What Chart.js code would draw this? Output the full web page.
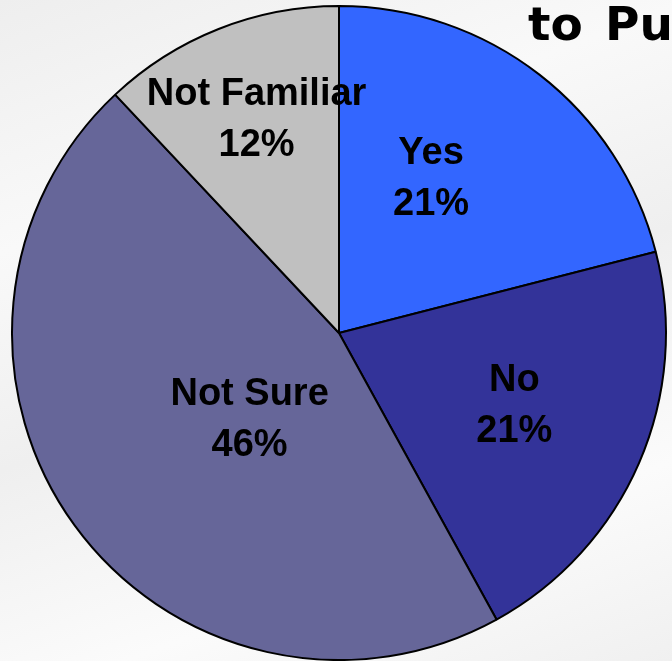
<!DOCTYPE html>
<html>
<head>
<meta charset="utf-8">
<script src="https://cdn.jsdelivr.net/npm/chart.js@4"></script>
<style>
  html, body { margin: 0; padding: 0; }
  body {
    width: 672px;
    height: 661px;
    overflow: hidden;
    background: linear-gradient(160deg, #eeeeee 0%, #f9f9f9 28%, #efefef 52%, #fbfbfb 78%, #f0f0f0 100%);
  }
  canvas { display: block; }
</style>
</head>
<body>
<canvas id="pieChart" width="672" height="661"></canvas>
<script>
// Respostas da pesquisa
const categorias = ['Yes', 'No', 'Not Sure', 'Not Familiar'];
const percentuais = [21, 21, 46, 12];
const cores = ['#3366ff', '#333399', '#666699', '#c0c0c0'];

// Ajuste fino de onde cada rótulo fica dentro da fatia
const deslocAngulo = [-7, -1, -8, 0.5];   // graus em relação ao meio da fatia
const fracRaio = [0.55, 0.58, 0.38, 0.70];

const ctx = document.getElementById('pieChart').getContext('2d');

// Escreve nome + percentual dentro de cada fatia
const rotulosFatias = {
    id: 'rotulosFatias',
    afterDatasetsDraw(chart) {
        const c = chart.ctx;
        const meta = chart.getDatasetMeta(0);
        c.save();
        c.fillStyle = '#000';
        c.font = 'bold 38px "Liberation Sans", Arial, sans-serif';
        c.textAlign = 'center';
        c.textBaseline = 'middle';
        meta.data.forEach(function(arco, i) {
            const meio = (arco.startAngle + arco.endAngle) / 2 + deslocAngulo[i] * Math.PI / 180;
            const r = arco.outerRadius * fracRaio[i];
            const x = arco.x + Math.cos(meio) * r;
            const y = arco.y + Math.sin(meio) * r;
            c.fillText(categorias[i], x, y - 25);
            c.fillText(percentuais[i] + '%', x, y + 26);
        });
        c.restore();
    }
};

// Pedaço do título que aparece no canto superior direito
const tituloCortado = {
    id: 'tituloCortado',
    afterDraw(chart) {
        const c = chart.ctx;
        c.save();
        c.fillStyle = '#000';
        c.font = 'bold 47px "DejaVu Sans", Verdana, sans-serif';
        c.textAlign = 'left';
        c.textBaseline = 'alphabetic';
        c.fillText('to', 528, 40);
        c.fillText('Pu', 605, 40);
        c.restore();
    }
};

const pieChart = new Chart(ctx, {
    type: 'pie',
    data: {
        labels: categorias,
        datasets: [{
            data: percentuais,
            backgroundColor: cores,
            borderColor: '#000000',
            borderWidth: 2
        }]
    },
    options: {
        responsive: false,
        animation: false,
        layout: {
            padding: { left: 6, right: 0, top: 5, bottom: 0 }
        },
        plugins: {
            legend: { display: false },
            tooltip: { enabled: false }
        }
    },
    plugins: [rotulosFatias, tituloCortado]
});
</script>
</body>
</html>
